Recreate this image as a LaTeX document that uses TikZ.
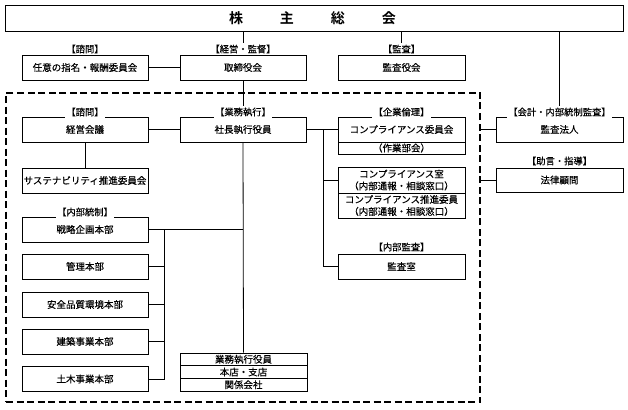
\documentclass[tikz,border=0pt]{standalone}
\usepackage{fontspec}
\setmainfont{Noto Sans CJK JP}[FakeBold=0.35, BoldFont={Noto Sans CJK JP Bold}, BoldFeatures={FakeBold=0}]
\begin{document}
\begin{tikzpicture}[x=1pt,y=-1pt,
  box/.style={draw, line width=0.8pt, minimum width=126pt, minimum height=25pt, inner sep=0pt, font=\fontsize{9.5}{11}\selectfont, align=center},
  row/.style={draw, line width=0.8pt, minimum width=127pt, inner sep=0pt, font=\fontsize{9.5}{11}\selectfont, align=center},
  lbl/.style={fill=white, inner sep=1.5pt, font=\fontsize{9.3}{10}\selectfont},
  conn/.style={line width=0.8pt}]
\useasboundingbox (0,0) rectangle (628,409);
% top
\node (sh) [draw, line width=0.8pt, minimum width=618pt, minimum height=26pt, inner sep=0pt] at (314,18) {};
\node (shtext) at (312.5,18) {\fontsize{14}{16}\selectfont\bfseries 株\hspace{37pt}主\hspace{37pt}総\hspace{37pt}会};
% dashed executive area
\node (exec) [draw, line width=1.5pt, dash pattern=on 7pt off 3.5pt, minimum width=474pt, minimum height=309pt, inner sep=0pt] at (243,247.5) {};
% board level
\node (nin) [box] at (85,67.5) {任意の指名・報酬委員会};
\node (tori) [box] at (243,67.5) {取締役会};
\node (kyaku) [box, minimum width=127pt] at (401.5,67.5) {監査役会};
% exec level
\node (keiei) [box] at (85,129.5) {経営会議};
\node (sus) [box] at (85,180.5) {サステナビリティ推進委員会};
\node (shacho) [box] at (243,129.5) {社長執行役員};
\node (comp) [box, minimum width=127pt] at (401.5,129.5) {コンプライアンス委員会};
\node (sagyo) [row, minimum height=12pt] at (401.5,148) {（作業部会）};
\node (croom) [row, minimum height=26pt, font=\fontsize{9.5}{12}\selectfont] at (401.5,180) {コンプライアンス室\\（内部通報・相談窓口）};
\node (csui) [row, minimum height=25pt, font=\fontsize{9.5}{12}\selectfont] at (401.5,205.5) {コンプライアンス推進委員\\（内部通報・相談窓口）};
\node (kshitsu) [box, minimum width=127pt] at (401.5,266.5) {監査室};
% outside right
\node (kansa) [box, minimum width=127pt] at (559.5,129.5) {監査法人};
\node (hou) [box, minimum width=127pt, minimum height=24pt] at (559.5,180) {法律顧問};
% left column
\node (senr) [box] at (85,229.5) {戦略企画本部};
\node (kanri) [box] at (85,266.5) {管理本部};
\node (anzen) [box] at (85,304.5) {安全品質環境本部};
\node (kenc) [box] at (85,341.5) {建築事業本部};
\node (dobo) [box] at (85,379) {土木事業本部};
% bottom box
\node (gyomu) [row, minimum height=12.7pt] at (243.5,359.3) {業務執行役員};
\node (honten) [row, minimum height=12.7pt] at (243.5,372) {本店・支店};
\node (kankei) [row, minimum height=12.7pt] at (243.5,384.7) {関係会社};
% connectors
\draw[conn] (tori.north |- sh.south) -- (tori.north);
\draw[conn] (kyaku.north |- sh.south) -- (kyaku.north);
\draw[conn] (kansa.north |- sh.south) -- (kansa.north);
\draw[conn] (nin.east) -- (tori.west);
\draw[conn] (tori.south) -- (shacho.north);
\draw[conn] (keiei.east) -- (shacho.west);
\draw[conn] (keiei.south) -- (sus.north);
\coordinate (rb1) at (323,129.5);
\coordinate (rb2) at (323,266.5);
\draw[conn] (shacho.east) -- (rb1) -- (rb2) -- (kshitsu.west);
\draw[conn] (rb1) -- (comp.west);
\draw[conn] (rb1 |- croom.west) -- (croom.west);
\draw[conn] (shacho.south) -- (gyomu.north);
\coordinate (lb1) at (164,229.5);
\coordinate (lb2) at (164,379);
\draw[conn] (senr.east) -- (shacho.south |- senr.east);
\draw[conn] (lb1) -- (lb2) -- (dobo.east);
\draw[conn] (lb1 |- kanri.east) -- (kanri.east);
\draw[conn] (lb1 |- anzen.east) -- (anzen.east);
\draw[conn] (lb1 |- kenc.east) -- (kenc.east);
\draw[conn] (exec.east |- kansa.west) -- (kansa.west);
\draw[conn] (exec.east |- hou.west) -- (hou.west);
% labels
\node (l1) [lbl] at (85,49) {【諮問】};
\node (l2) [lbl] at (243,49) {【経営・監督】};
\node (l3) [lbl] at (401.5,49) {【監査】};
\node (l4) [lbl] at (85,112) {【諮問】};
\node (l5) [lbl] at (243,112) {【業務執行】};
\node (l6) [lbl] at (401.5,112) {【企業倫理】};
\node (l7) [lbl] at (559.5,112) {【会計・内部統制監査】};
\node (l8) [lbl] at (559.5,161) {【助言・指導】};
\node (l9) [lbl] at (85,212) {【内部統制】};
\node (l10) [lbl] at (401.5,247) {【内部監査】};
\end{tikzpicture}
\end{document}
